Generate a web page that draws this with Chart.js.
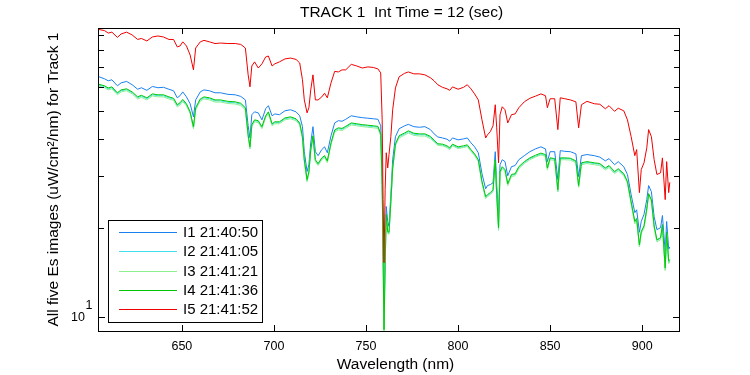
<!DOCTYPE html>
<html>
<head>
<meta charset="utf-8">
<title>TRACK 1 Es spectra</title>
<script src="https://cdn.jsdelivr.net/npm/chart.js@4"></script>
<style>
  html, body { margin: 0; padding: 0; background: #fff; }
  #wrap { width: 750px; height: 375px; }
</style>
</head>
<body>
<div id="wrap"><canvas id="myChart" width="750" height="375"></canvas></div>
<script>
// wavelengths (nm)
const wavelength = [
  605, 608, 610, 612, 615, 617, 620, 623, 626, 628,
  631, 634, 637, 640, 643, 645.5, 647.5, 649, 650.5, 652.5,
  654.5, 656.3, 657.5, 660, 662, 665, 668, 671, 675, 679,
  682, 684.5, 686, 687, 688, 689.5, 691.5, 693.5, 695.5, 697,
  699, 700.5, 703, 706, 709, 712, 714, 715.5, 716.5, 718,
  719, 720, 721.2, 722.5, 724, 726, 727.5, 729, 731, 733,
  735, 737, 739, 742, 745, 748, 751, 754, 756.5, 758,
  758.8, 759.3, 759.8, 760.4, 761, 761.8, 762.5, 763.5, 764.5, 766,
  768, 771, 773, 776, 779, 782, 785, 787, 789, 791.5,
  794, 795.5, 797, 800, 803, 805, 807, 809, 811, 813,
  815, 816, 817.5, 819, 820.2, 821, 822, 822.8, 824, 825.5,
  827, 829, 831, 833, 836, 839, 842, 845, 847.5, 848.5,
  850, 852.5, 854.2, 855.5, 858, 861, 864, 865.5, 867, 870,
  874, 877, 880, 882, 885, 887, 890, 892, 894, 896,
  897, 898.5, 899.5, 901, 902.5, 903.5, 905, 906.5, 908, 910,
  911, 912.5, 913.3, 914.4, 915,
];

// Es, uW/cm^2/nm
const i1 = [
  65.0, 64.0, 63.0, 63.5, 60.6, 62.0, 62.7, 61.1, 59.0, 59.7,
  58.5, 60.3, 59.7, 59.9, 59.0, 58.3, 55.2, 56.1, 57.8, 55.6,
  52.7, 47.6, 54.3, 57.8, 58.7, 58.3, 57.4, 57.4, 56.7, 56.5,
  55.8, 54.3, 44.4, 40.4, 48.4, 49.5, 49.1, 46.5, 50.7, 51.9,
  48.0, 48.7, 48.4, 49.9, 50.3, 49.5, 48.0, 44.1, 36.3, 31.1,
  32.8, 38.9, 44.1, 36.3, 35.2, 36.9, 37.7, 36.0, 41.1, 45.4,
  46.2, 46.0, 46.7, 48.0, 47.6, 47.3, 47.1, 46.9, 46.7, 44.4,
  30.1, 18.3, 11.2, 17.0, 23.7, 21.1, 20.3, 26.0, 34.1, 40.8,
  43.4, 44.4, 44.9, 44.1, 43.9, 44.1, 43.1, 41.7, 40.7, 40.4,
  40.0, 39.4, 40.4, 39.8, 40.1, 40.4, 38.9, 37.7, 36.0, 30.6,
  27.2, 27.9, 28.1, 28.5, 36.3, 28.1, 22.1, 32.8, 34.1, 33.6,
  30.1, 32.3, 32.6, 34.1, 35.2, 36.3, 37.1, 37.7, 37.1, 33.6,
  36.3, 36.3, 29.2, 36.6, 36.4, 36.3, 35.7, 29.9, 35.2, 35.5,
  35.2, 34.8, 33.8, 34.4, 32.8, 33.6, 32.3, 30.4, 26.0, 22.6,
  23.1, 19.4, 21.1, 22.3, 25.0, 27.9, 26.6, 21.9, 19.8, 20.1,
  22.1, 16.6, 21.1, 17.0, 17.3,
];
const i2 = [
  60.9, 60.2, 59.2, 59.7, 57.0, 58.3, 58.8, 57.4, 55.2, 55.9,
  54.8, 56.5, 56.1, 56.1, 55.2, 54.6, 51.9, 52.7, 54.1, 52.3,
  49.2, 43.6, 50.7, 54.3, 55.2, 54.8, 53.9, 53.9, 53.3, 53.1,
  52.5, 50.7, 41.1, 37.2, 44.5, 46.2, 45.9, 43.8, 47.7, 49.2,
  44.8, 45.5, 45.5, 46.9, 47.3, 46.6, 45.1, 40.5, 33.9, 28.8,
  30.9, 36.6, 40.8, 33.9, 32.9, 34.4, 35.0, 33.6, 38.6, 42.7,
  43.4, 43.2, 43.9, 45.1, 44.8, 44.5, 44.3, 44.1, 43.9, 41.4,
  27.9, 15.4, 9.05, 14.9, 22.1, 19.3, 19.2, 24.4, 31.8, 38.3,
  40.8, 41.7, 42.4, 41.6, 41.4, 41.4, 40.6, 39.4, 38.3, 38.2,
  37.7, 37.1, 38.2, 37.4, 37.7, 38.0, 36.6, 35.4, 33.9, 28.6,
  25.3, 25.8, 26.2, 26.8, 33.9, 25.8, 19.7, 30.9, 32.1, 31.4,
  28.1, 30.2, 30.4, 32.1, 33.4, 34.4, 35.0, 35.6, 35.2, 31.8,
  34.4, 34.2, 26.6, 34.4, 34.4, 34.3, 33.6, 27.6, 33.1, 33.4,
  33.1, 32.9, 31.8, 32.4, 30.9, 31.6, 30.4, 28.6, 24.4, 21.0,
  21.5, 17.4, 19.4, 20.3, 23.2, 26.0, 24.9, 20.3, 18.2, 18.5,
  20.5, 14.5, 19.3, 15.3, 15.5,
];
const i3 = [
  60.4, 59.7, 58.7, 59.2, 56.5, 57.8, 58.3, 56.9, 54.7, 55.4,
  54.3, 56.0, 55.6, 55.6, 54.7, 54.1, 51.4, 52.2, 53.6, 51.8,
  48.8, 43.4, 50.2, 53.8, 54.7, 54.3, 53.4, 53.4, 52.8, 52.6,
  52.0, 50.2, 40.7, 37.2, 44.1, 45.8, 45.5, 43.4, 47.3, 48.8,
  44.4, 45.1, 45.1, 46.5, 46.9, 46.2, 44.7, 40.1, 33.6, 28.8,
  30.6, 36.4, 40.4, 33.6, 32.6, 34.1, 34.7, 33.3, 38.4, 42.3,
  43.0, 42.8, 43.5, 44.7, 44.4, 44.1, 43.9, 43.7, 43.5, 41.0,
  27.7, 15.4, 9.0, 14.8, 21.9, 19.2, 19.1, 24.2, 31.5, 38.1,
  40.4, 41.3, 42.0, 41.2, 41.0, 41.0, 40.2, 39.2, 38.1, 38.0,
  37.5, 36.9, 38.0, 37.2, 37.5, 37.8, 36.4, 35.2, 33.6, 28.4,
  25.2, 25.6, 26.0, 26.6, 33.6, 25.6, 19.8, 30.6, 31.8, 31.1,
  27.9, 29.9, 30.1, 31.8, 33.1, 34.1, 34.8, 35.4, 35.0, 31.5,
  34.1, 33.9, 26.6, 34.1, 34.1, 34.0, 33.3, 27.5, 32.8, 33.1,
  32.8, 32.6, 31.5, 32.1, 30.6, 31.3, 30.1, 28.4, 24.2, 20.7,
  21.2, 17.3, 19.2, 20.0, 22.9, 25.8, 24.6, 20.0, 18.0, 18.3,
  20.2, 14.4, 19.1, 15.2, 15.4,
];
const i4 = [
  61.3, 60.6, 59.6, 60.1, 57.4, 58.7, 59.2, 57.8, 55.6, 56.3,
  55.2, 56.9, 56.5, 56.5, 55.6, 55.0, 52.3, 53.1, 54.5, 52.7,
  49.5, 44.1, 51.1, 54.7, 55.6, 55.2, 54.3, 54.3, 53.7, 53.5,
  52.9, 51.1, 41.4, 37.7, 44.8, 46.5, 46.2, 44.1, 48.0, 49.5,
  45.1, 45.8, 45.8, 47.2, 47.6, 46.9, 45.4, 40.8, 34.1, 29.2,
  31.1, 36.9, 41.1, 34.1, 33.1, 34.6, 35.2, 33.8, 38.9, 43.0,
  43.7, 43.5, 44.2, 45.4, 45.1, 44.8, 44.6, 44.4, 44.2, 41.7,
  28.1, 15.7, 9.1, 15.1, 22.3, 19.5, 19.4, 24.6, 32.0, 38.6,
  41.1, 42.0, 42.7, 41.9, 41.7, 41.7, 40.9, 39.7, 38.6, 38.5,
  38.0, 37.4, 38.5, 37.7, 38.0, 38.3, 36.9, 35.7, 34.1, 28.8,
  25.6, 26.0, 26.4, 27.0, 34.1, 26.0, 20.1, 31.1, 32.3, 31.6,
  28.3, 30.4, 30.6, 32.3, 33.6, 34.6, 35.3, 35.9, 35.5, 32.0,
  34.6, 34.4, 27.0, 34.6, 34.6, 34.5, 33.8, 27.9, 33.3, 33.6,
  33.3, 33.1, 32.0, 32.6, 31.1, 31.8, 30.6, 28.8, 24.6, 21.1,
  21.6, 17.6, 19.5, 20.4, 23.3, 26.2, 25.0, 20.4, 18.3, 18.6,
  20.6, 14.7, 19.4, 15.5, 15.7,
];
const i5 = [
  93.9, 93.1, 91.3, 92.0, 88.3, 90.7, 92.0, 90.0, 86.9, 87.6,
  85.9, 88.6, 89.3, 88.6, 86.9, 86.9, 82.0, 82.6, 85.3, 82.6,
  77.0, 68.6, 81.3, 85.3, 86.3, 85.3, 84.2, 84.5, 84.2, 84.2,
  83.6, 81.3, 66.0, 60.1, 70.7, 73.0, 69.6, 71.9, 75.8, 76.4,
  70.7, 71.9, 73.0, 74.7, 75.2, 74.4, 72.4, 63.5, 54.3, 49.1,
  51.1, 58.7, 66.0, 54.3, 54.3, 55.6, 57.2, 55.2, 62.0, 67.8,
  67.5, 68.6, 68.6, 71.6, 70.7, 69.6, 70.2, 69.9, 69.1, 67.0,
  46.5, 25.0, 15.3, 27.0, 36.0, 32.0, 35.5, 40.8, 50.3, 59.6,
  65.0, 66.8, 67.5, 66.5, 66.5, 66.0, 64.5, 63.0, 61.1, 59.9,
  59.2, 58.5, 60.1, 59.0, 59.9, 61.1, 59.2, 56.9, 54.3, 46.5,
  40.4, 41.4, 42.4, 44.4, 52.3, 43.7, 33.3, 48.4, 51.5, 50.3,
  45.4, 48.4, 48.7, 51.1, 53.5, 55.0, 55.9, 56.9, 56.1, 51.1,
  54.8, 54.8, 43.1, 55.2, 54.8, 54.3, 53.5, 43.7, 52.3, 53.7,
  52.7, 52.5, 50.7, 51.9, 49.7, 50.9, 49.9, 46.5, 40.8, 35.2,
  36.9, 26.4, 31.6, 33.3, 37.4, 43.1, 40.8, 34.1, 30.4, 30.8,
  34.6, 25.0, 33.6, 26.4, 28.6,
];

const seriesLabels = ["I1 21:40:50", "I2 21:41:05", "I3 21:41:21", "I4 21:41:36", "I5 21:41:52"];
const seriesColors = ["#1a80f0", "#40e0f0", "#8ef08e", "#00c800", "#f00000"];
const allSeries = [i1, i2, i3, i4, i5];

const xTicks = [650, 700, 750, 800, 850, 900];
const yTicks = [10, 20, 30, 40, 50, 60, 70, 80, 90];

const titleText = "TRACK 1  Int Time = 12 (sec)";
const xTitle = "Wavelength (nm)";
const yTitle = "All five Es images (uW/cm\u00b2/nm) for Track 1";

const FONT = '"Liberation Sans", Arial, Helvetica, sans-serif';

// matlab look: boxed axes, inward ticks, in-axes legend
const matlabAxes = {
  id: "matlabAxes",
  afterDraw(chart) {
    const { ctx, chartArea: a } = chart;
    const xs = chart.scales.x;
    const ys = chart.scales.y;
    ctx.save();
    ctx.strokeStyle = "#000";
    ctx.fillStyle = "#000";
    ctx.lineWidth = 1;

    ctx.strokeRect(a.left - 0.5, a.top + 0.5, a.right - a.left + 1, a.bottom - a.top);

    ctx.beginPath();
    xTicks.forEach((v) => {
      const px = Math.round(xs.getPixelForValue(v)) + 0.5;
      ctx.moveTo(px, a.bottom);
      ctx.lineTo(px, a.bottom - 6);
      ctx.moveTo(px, a.top);
      ctx.lineTo(px, a.top + 6);
    });
    yTicks.forEach((v) => {
      const py = Math.round(ys.getPixelForValue(v)) + 0.5;
      const len = v === 10 ? 6 : 5;
      ctx.moveTo(a.left, py);
      ctx.lineTo(a.left + len, py);
      ctx.moveTo(a.right, py);
      ctx.lineTo(a.right - len, py);
    });
    ctx.stroke();

    // y tick label 10^1
    const p10 = ys.getPixelForValue(10);
    ctx.font = "12.5px " + FONT;
    ctx.textBaseline = "middle";
    ctx.textAlign = "right";
    ctx.fillText("10", 85, p10 + 0.5);
    ctx.textAlign = "left";
    ctx.fillText("1", 85.5, p10 - 12);

    // title and axis labels
    ctx.font = "15.5px " + FONT;
    ctx.textBaseline = "alphabetic";
    ctx.textAlign = "center";
    ctx.fillText(titleText, 401.5, 16.7);
    ctx.fillText(xTitle, 395.5, 369);
    ctx.save();
    ctx.translate(58, (a.top + a.bottom) / 2);
    ctx.rotate(-Math.PI / 2);
    ctx.fillText(yTitle, 0, 0);
    ctx.restore();

    // legend box
    ctx.fillStyle = "#fff";
    ctx.fillRect(108.5, 220.5, 154, 102);
    ctx.strokeRect(108.5, 220.5, 154, 102);
    ctx.font = "15px " + FONT;
    ctx.textAlign = "left";
    ctx.textBaseline = "middle";
    seriesLabels.forEach((label, i) => {
      const y = Math.round(232 + i * 19.3) + 0.5;
      ctx.strokeStyle = seriesColors[i];
      ctx.beginPath();
      ctx.moveTo(119, y);
      ctx.lineTo(177, y);
      ctx.stroke();
      ctx.fillStyle = "#000";
      ctx.fillText(label, 183, y + 0.5);
    });
    ctx.restore();
  },
};

const datasets = allSeries.map((vals, i) => ({
  label: seriesLabels[i],
  data: wavelength.map((w, k) => ({ x: w, y: vals[k] })),
  borderColor: seriesColors[i],
  backgroundColor: seriesColors[i],
  borderWidth: 1,
  pointRadius: 0,
  tension: 0,
  fill: false,
  order: 4 - i, // I5 drawn last, like matlab's plot order
}));

const ctx = document.getElementById("myChart").getContext("2d");
const myChart = new Chart(ctx, {
  type: "line",
  data: { datasets: datasets },
  options: {
    responsive: false,
    animation: false,
    devicePixelRatio: 1,
    layout: { padding: { top: 28, right: 71, left: 0, bottom: 0 } },
    plugins: {
      legend: { display: false },
      title: { display: false },
      tooltip: { enabled: false },
    },
    scales: {
      x: {
        type: "linear",
        min: 605,
        max: 920,
        grid: { display: false, drawTicks: false },
        border: { display: false },
        ticks: {
          stepSize: 50,
          includeBounds: false,
          autoSkip: false,
          maxRotation: 0,
          padding: 8,
          color: "#000",
          font: { family: FONT, size: 12.5 },
        },
        afterFit(scale) {
          scale.height = 44;
        },
      },
      y: {
        type: "logarithmic",
        min: 9,
        max: 95,
        grid: { display: false, drawTicks: false },
        border: { display: false },
        ticks: { display: false },
        afterFit(scale) {
          scale.width = 99;
        },
      },
    },
  },
  plugins: [matlabAxes],
});
</script>
</body>
</html>
